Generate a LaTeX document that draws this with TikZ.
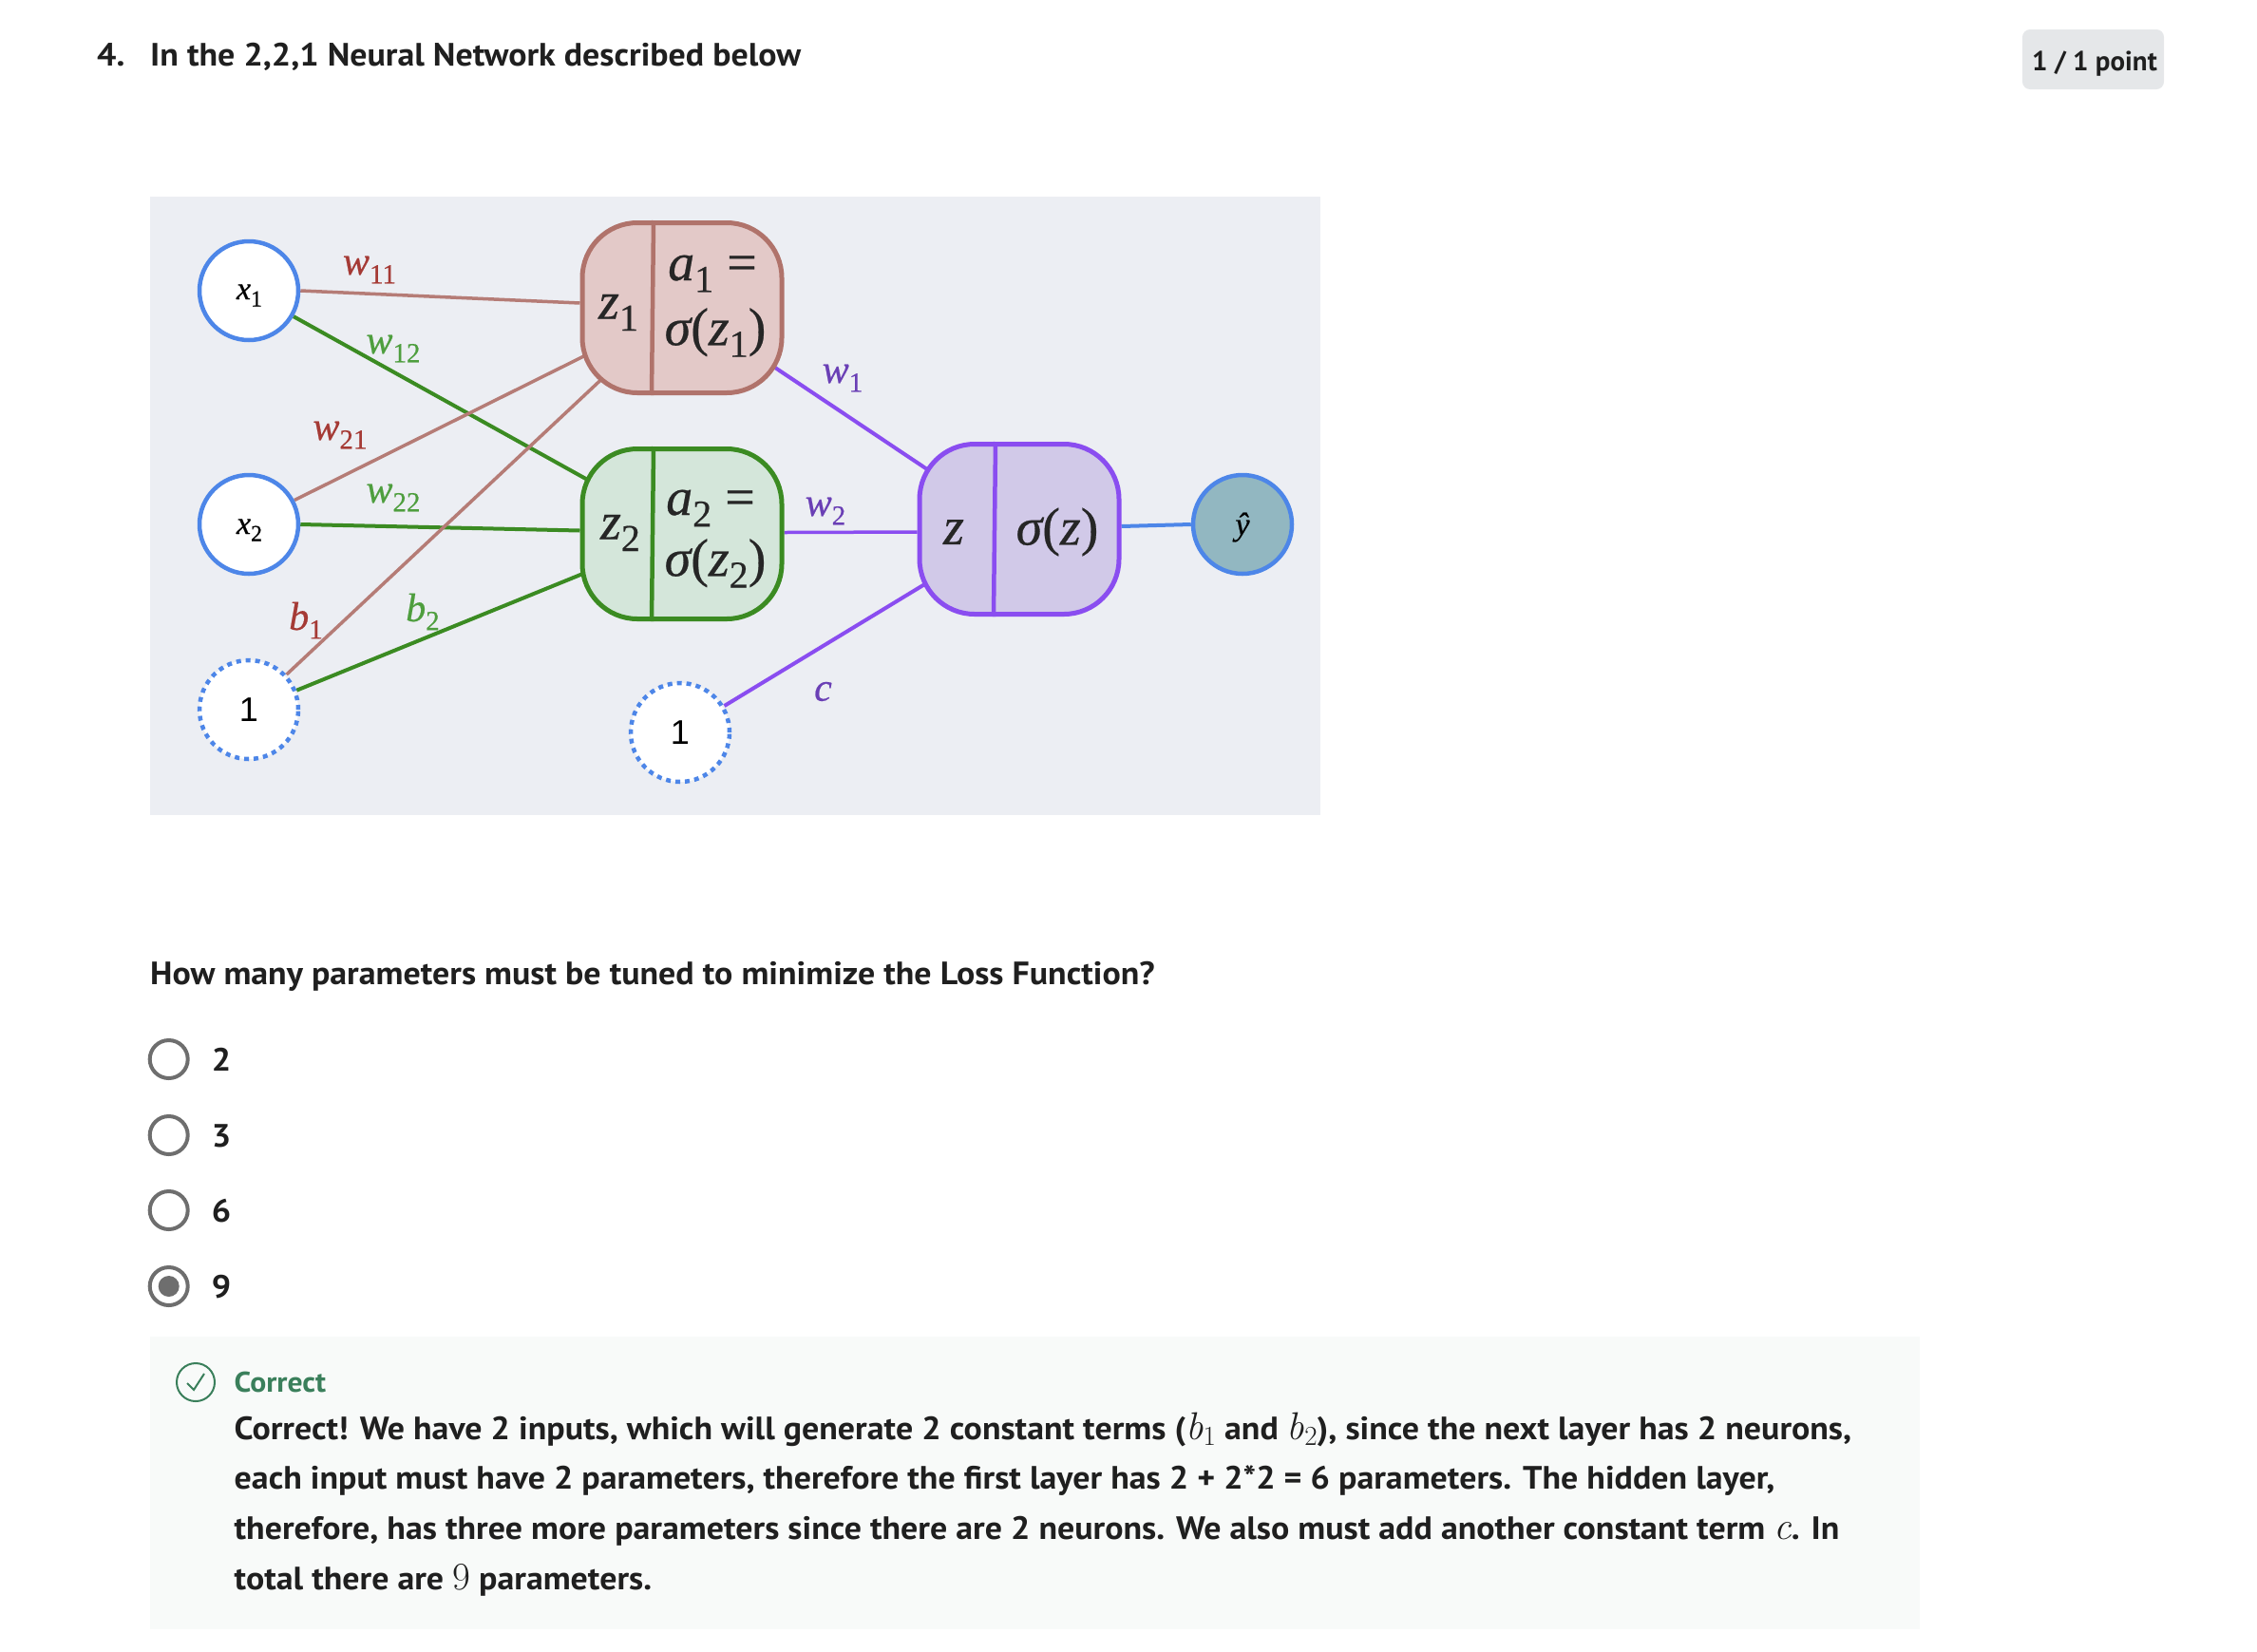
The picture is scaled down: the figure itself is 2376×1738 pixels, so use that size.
\documentclass[tikz,border=0pt]{standalone}
\usepackage{fontspec}
\newfontfamily\quizfont[FakeStretch=1.056]{PT Sans}
\newfontfamily\badgefont{PT Sans}
\newfontfamily\timesfont[FakeBold=0.5]{Liberation Serif}
\newfontfamily\arialfont{Liberation Sans}
\usetikzlibrary{backgrounds}
\definecolor{panelgrey}{HTML}{ECEEF3}
\definecolor{answerbg}{HTML}{F8FAF9}
\definecolor{badgegrey}{HTML}{E5E7E9}
\definecolor{inkdark}{HTML}{1F1F1F}
\definecolor{radiogrey}{HTML}{6E6E6E}
\definecolor{okgreen}{HTML}{3A7F5B}
\definecolor{inblue}{HTML}{4D86E8}
\definecolor{brownline}{HTML}{B57C76}
\definecolor{brownfill}{HTML}{E3C9C8}
\definecolor{brownedge}{HTML}{B0736B}
\definecolor{brownlab}{HTML}{A53A35}
\definecolor{greenline}{HTML}{3B8B22}
\definecolor{greenfill}{HTML}{D4E6DA}
\definecolor{greenlab}{HTML}{4E9E3E}
\definecolor{purpline}{HTML}{8A4DF0}
\definecolor{purpfill}{HTML}{D1C9E8}
\definecolor{purplab}{HTML}{6A3FB5}
\definecolor{yfill}{HTML}{92B7C1}
\newcommand{\sbs}[3]{#2\raisebox{-0.22em}{\fontsize{#1}{#1}\selectfont\upshape #3}}
\newcommand{\mlet}[1]{{\normalfont\itshape\fontsize{41}{41}\selectfont #1}}
\newcommand{\msub}[2]{{\normalfont\itshape\fontsize{41}{41}\selectfont #1\raisebox{-0.15em}{\fontsize{29}{29}\selectfont\upshape #2}}}
\tikzset{
  quiz/.style={anchor=base west,inner sep=0pt,text=inkdark,font=\quizfont\bfseries\fontsize{34}{40}\selectfont},
  inputnode/.style={shape=circle,draw=inblue,fill=white,line width=4.5pt,minimum size=104pt,inner sep=0pt},
  biasnode/.style={inputnode,dash pattern=on 5pt off 5pt},
  cellbox/.style={shape=rectangle,line width=5pt,minimum width=210pt,minimum height=179pt,rounded corners=58pt},
  radionode/.style={shape=circle,draw=radiogrey,line width=4pt,minimum size=40pt,inner sep=0pt},
  weightlab/.style={inner sep=0pt,font=\timesfont\itshape\fontsize{42}{44}\selectfont},
  nodelab/.style={inner sep=0pt,text=black,font=\timesfont\itshape\fontsize{34}{36}\selectfont},
  celllab/.style={inner sep=0pt,text=black!85,font=\timesfont\itshape\fontsize{56}{58}\selectfont},
}
\begin{document}
\begin{tikzpicture}[x=1pt,y=-1pt]
\useasboundingbox (0,0) rectangle (2376,1738);

\node[quiz] (qnum) at (102,69) {4.};
\node[quiz] (title) at (158,69) {In the 2,2,1 Neural Network described below};
\node[shape=rectangle,fill=badgegrey,rounded corners=8pt,minimum width=149pt,minimum height=63pt] (badge) at (2203.5,62.5) {};
\node[quiz,font=\badgefont\bfseries\fontsize{29}{34}\selectfont] (badgetxt) at (2139,74) {1 / 1 point};

% network
\node[inputnode] (x1) at (262,306) {};
\node[inputnode] (x2) at (262,552) {};
\node[biasnode] (one) at (262,747) {};
\node[biasnode] (oneb) at (716,771) {};
\node[inputnode,fill=yfill] (yhat) at (1308,552) {};
\node[cellbox,draw=brownedge,fill=brownfill] (z1) at (718,324) {};
\node[cellbox,draw=greenline,fill=greenfill] (z2) at (718,562) {};
\node[cellbox,draw=purpline,fill=purpfill] (z) at (1073,557) {};

\begin{scope}[on background layer]
\fill[panelgrey] (158,207) rectangle (1390,858);
\draw[brownline,line width=3.5pt] (x1.east) -- ([shift={(0,-5)}]z1.west);
\draw[greenline,line width=4pt] (x1.-30) -- ([shift={(8,-57)}]z2.west);
\draw[brownline,line width=3.5pt] (x2.28) -- ([shift={(4,51)}]z1.west);
\draw[greenline,line width=4pt] (x2.east) -- ([shift={(0,-3.5)}]z2.west);
\draw[brownline,line width=3.5pt] (one.43) -- ([shift={(23,75)}]z1.west);
\draw[greenline,line width=4pt] (one.22) -- ([shift={(3,42)}]z2.west);
\draw[purpline,line width=4pt] ([shift={(-11,62)}]z1.east) -- ([shift={(12,-62)}]z.west);
\draw[purpline,line width=3.5pt] ([shift={(0,-1.5)}]z2.east) -- ([shift={(0,3)}]z.west);
\draw[purpline,line width=4pt] (oneb.31) -- ([shift={(8,58)}]z.west);
\draw[inblue,line width=4pt] ([shift={(0,-3)}]z.east) -- (yhat.west);
\end{scope}

\draw[brownedge,line width=4.5pt] ([xshift=-30pt]z1.north) -- ([xshift=-32pt]z1.south);
\draw[greenline,line width=4.5pt] ([xshift=-30pt]z2.north) -- ([xshift=-32pt]z2.south);
\draw[purpline,line width=4.5pt] ([xshift=-25pt]z.north) -- ([xshift=-27pt]z.south);

\node[nodelab] (x1lab) at (262.5,311) {\sbs{24}{x}{1}};
\node[nodelab] (x2lab) at (262.5,558) {\sbs{24}{x}{2}};
\node[inner sep=0pt,font=\arialfont\fontsize{36}{36}\selectfont] (onelab) at (262,747) {1};
\node[inner sep=0pt,font=\arialfont\fontsize{36}{36}\selectfont] (oneblab) at (716,771) {1};
\node[nodelab] (yhatlab) at (1308,555) {ŷ};

\node[celllab] (z1lab) at (651,329) {\sbs{40}{z}{1}};
\node[celllab] (a1lab) at (750,288) {\sbs{40}{a}{1} \upshape=};
\node[celllab] (s1lab) at (753,350) {σ\upshape(\itshape\sbs{40}{z}{1}\upshape)};
\node[celllab] (z2lab) at (653,561) {\sbs{40}{z}{2}};
\node[celllab] (a2lab) at (748,535) {\sbs{40}{a}{2} \upshape=};
\node[celllab] (s2lab) at (753,593) {σ\upshape(\itshape\sbs{40}{z}{2}\upshape)};
\node[celllab] (zlab) at (1004,560) {z};
\node[celllab] (slab) at (1113,560) {σ\upshape(\itshape z\upshape)};

\node[weightlab,text=brownlab] (w11) at (389,284) {\sbs{29}{w}{11}};
\node[weightlab,text=greenlab] (w12) at (414,367) {\sbs{29}{w}{12}};
\node[weightlab,text=brownlab] (w21) at (358,458) {\sbs{29}{w}{21}};
\node[weightlab,text=greenlab] (w22) at (414,524) {\sbs{29}{w}{22}};
\node[weightlab,text=brownlab] (b1) at (322,653) {\sbs{29}{b}{1}};
\node[weightlab,text=greenlab] (b2) at (445,644) {\sbs{29}{b}{2}};
\node[weightlab,text=purplab] (w1) at (887,398) {\sbs{29}{w}{1}};
\node[weightlab,text=purplab] (w2) at (869,538) {\sbs{29}{w}{2}};
\node[weightlab,text=purplab] (c) at (866.5,728) {c};

% question
\node[quiz] (ask) at (158,1036) {How many parameters must be tuned to minimize the Loss Function?};
\node[radionode] (r2) at (177.7,1115) {};
\node[radionode] (r3) at (177.7,1195) {};
\node[radionode] (r6) at (177.7,1274) {};
\node[radionode] (r9) at (177.7,1354) {};
\node[shape=circle,fill=radiogrey,minimum size=22pt,inner sep=0pt] (r9dot) at (r9.center) {};
\node[quiz] (t2) at (222.7,1127) {2};
\node[quiz] (t3) at (222.7,1207) {3};
\node[quiz] (t6) at (222.7,1286) {6};
\node[quiz] (t9) at (222.7,1366) {9};

% answer
\fill[answerbg] (158,1407) rectangle (2021,1715);
\node[shape=circle,draw=okgreen,line width=2pt,minimum size=40pt,inner sep=0pt] (okmark) at (206,1455) {};
\draw[okgreen,line width=2pt] ([shift={(-9,1)}]okmark.center) -- ([shift={(-2,8)}]okmark.center) -- ([shift={(9,-9)}]okmark.center);
\node[quiz,text=okgreen,font=\quizfont\bfseries\fontsize{30}{34}\selectfont] (oktxt) at (246.5,1465) {Correct};
\node[quiz] (line1) at (246.5,1515) {Correct! We have 2 inputs, which will generate 2 constant terms (\msub{b}{1} and \msub{b}{2}), since the next layer has 2 neurons,};
\node[quiz] (line2) at (246.5,1567.5) {each input must have 2 parameters, therefore the first layer has 2 + 2*2 = 6 parameters. The hidden layer,};
\node[quiz] (line3) at (246.5,1620) {therefore, has three more parameters since there are 2 neurons. We also must add another constant term \mlet{c}. In};
\node[quiz] (line4) at (246.5,1673) {total there are {\normalfont\fontsize{41}{41}\selectfont 9} parameters.};
\end{tikzpicture}
\end{document}
